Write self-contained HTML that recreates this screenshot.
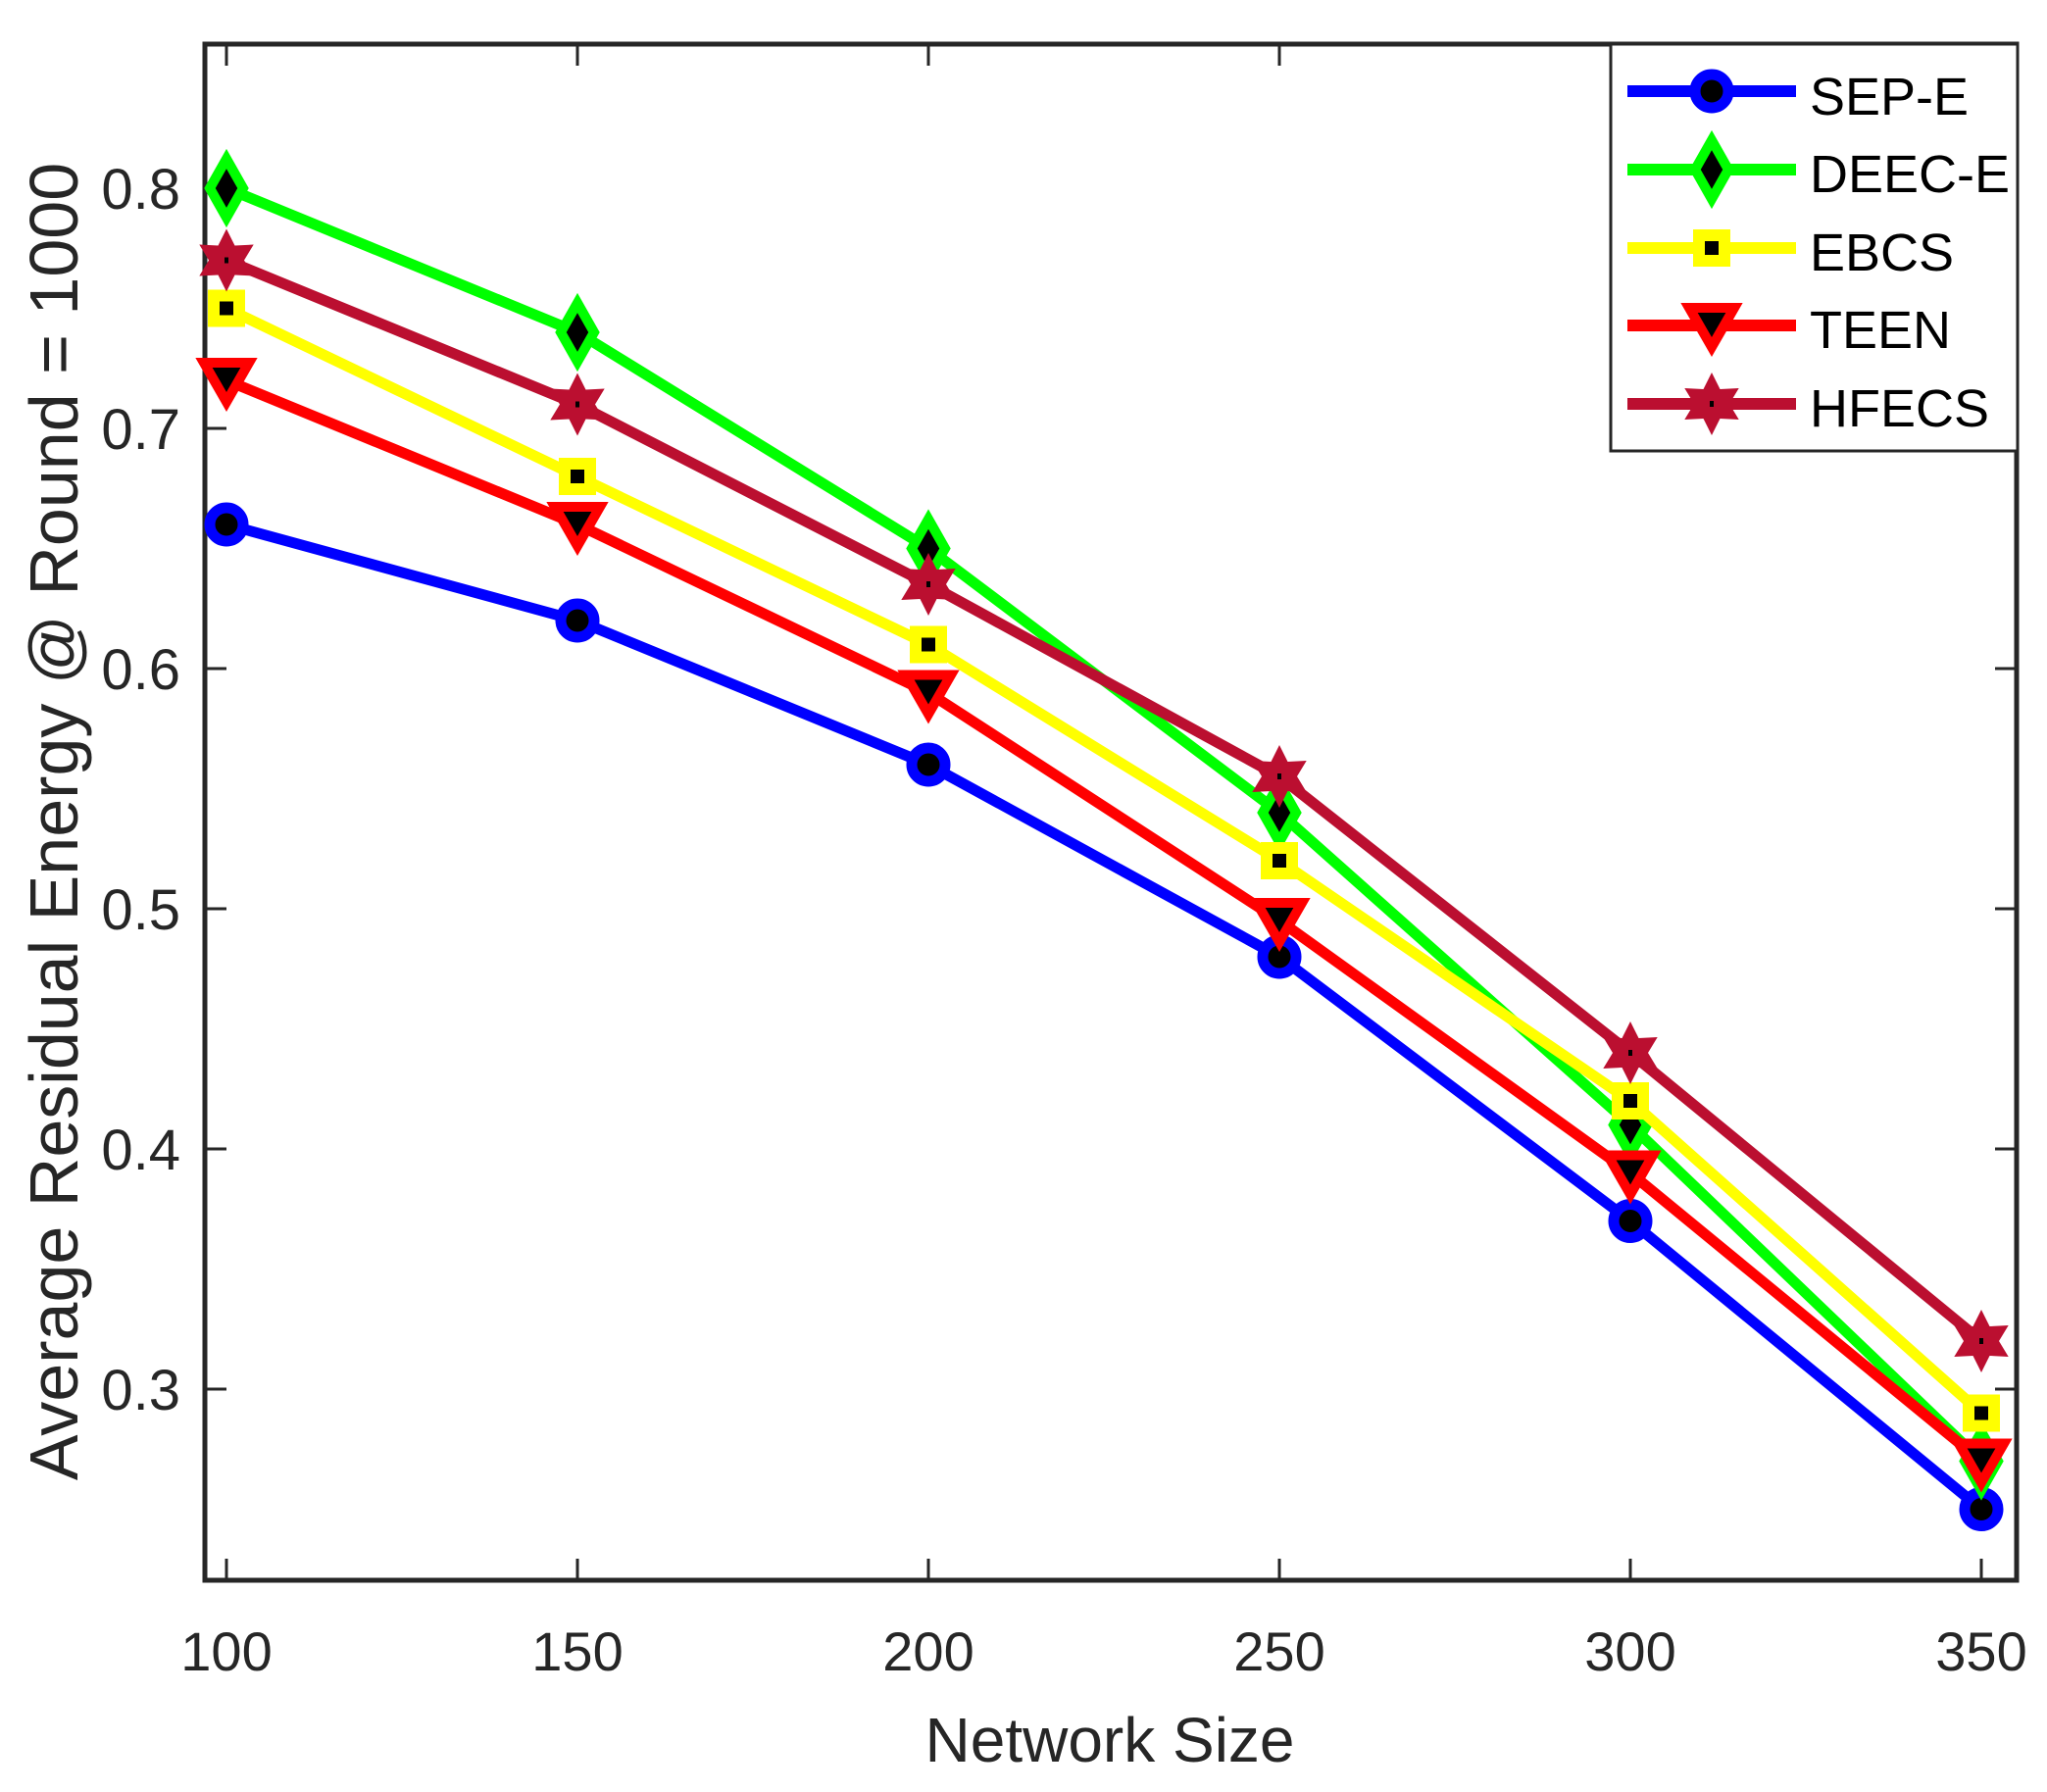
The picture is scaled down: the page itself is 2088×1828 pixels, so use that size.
<!DOCTYPE html>
<html><head><meta charset="utf-8"><style>
html,body{margin:0;padding:0;background:#fff;}
svg{display:block;}
text{font-family:"Liberation Sans",Arial,sans-serif;fill:#262626;}
</style></head><body>
<svg width="2088" height="1828" viewBox="0 0 2088 1828" xmlns="http://www.w3.org/2000/svg">
<defs>
<g id="mc"><circle r="17" fill="#000" stroke="#0000ff" stroke-width="11"/></g>
<g id="md"><polygon points="0,-30 17,0 0,30 -17,0" fill="#000" stroke="#00ff00" stroke-width="10"/></g>
<g id="ms"><rect x="-13" y="-13" width="26" height="26" fill="#000" stroke="#ffff00" stroke-width="12"/></g>
<g id="mt"><polygon points="-23,-18 23,-18 0,22" fill="#000" stroke="#ff0000" stroke-width="10"/></g>
<g id="mh"><polygon points="0,-32 8.5,-15 27.7,-16 18,0 27.7,16 8.5,15 0,32 -8.5,15 -27.7,16 -18,0 -27.7,-16 -8.5,-15" fill="#bb0f30"/><rect x="-2" y="-3" width="4" height="6" fill="#000"/></g>
</defs>
<rect width="2088" height="1828" fill="#fff"/>
<g stroke="#262626" stroke-width="3">
<path d="M231 1612v-22M589 1612v-22M947 1612v-22M1305 1612v-22M1663 1612v-22M2021 1612v-22"/>
<path d="M231 45v22M589 45v22M947 45v22M1305 45v22M1663 45v22M2021 45v22"/>
<path d="M209 1417h22M209 1172h22M209 927h22M209 682h22M209 437h22M209 192h22"/>
<path d="M2057 1417h-22M2057 1172h-22M2057 927h-22M2057 682h-22M2057 437h-22M2057 192h-22"/>
</g>
<rect x="209" y="45" width="1848" height="1567" fill="none" stroke="#262626" stroke-width="5"/>
<polyline fill="none" stroke-width="11" stroke-linejoin="round" stroke="#0000ff" points="231,535 589,633 947,780 1305,976 1663,1245.5 2021,1539.5"/>
<use href="#mc" x="231" y="535"/><use href="#mc" x="589" y="633"/><use href="#mc" x="947" y="780"/><use href="#mc" x="1305" y="976"/><use href="#mc" x="1663" y="1245.5"/><use href="#mc" x="2021" y="1539.5"/>
<polyline fill="none" stroke-width="11" stroke="#00ff00" points="231,192 589,339 947,559.5 1305,829 1663,1147.5 2021,1490.5"/>
<use href="#md" x="231" y="192"/><use href="#md" x="589" y="339"/><use href="#md" x="947" y="559.5"/><use href="#md" x="1305" y="829"/><use href="#md" x="1663" y="1147.5"/><use href="#md" x="2021" y="1490.5"/>
<polyline fill="none" stroke-width="11" stroke="#ffff00" points="231,314.5 589,486 947,657.5 1305,878 1663,1123 2021,1441.5"/>
<use href="#ms" x="231" y="314.5"/><use href="#ms" x="589" y="486"/><use href="#ms" x="947" y="657.5"/><use href="#ms" x="1305" y="878"/><use href="#ms" x="1663" y="1123"/><use href="#ms" x="2021" y="1441.5"/>
<polyline fill="none" stroke-width="11" stroke="#ff0000" points="231,388 589,535 947,706.5 1305,939 1663,1196.5 2021,1490.5"/>
<use href="#mt" x="231" y="388"/><use href="#mt" x="589" y="535"/><use href="#mt" x="947" y="706.5"/><use href="#mt" x="1305" y="939"/><use href="#mt" x="1663" y="1196.5"/><use href="#mt" x="2021" y="1490.5"/>
<polyline fill="none" stroke-width="11" stroke="#bb0f30" points="231,265.5 589,412.5 947,596 1305,792 1663,1074 2021,1368"/>
<use href="#mh" x="231" y="265.5"/><use href="#mh" x="589" y="412.5"/><use href="#mh" x="947" y="596"/><use href="#mh" x="1305" y="792"/><use href="#mh" x="1663" y="1074"/><use href="#mh" x="2021" y="1368"/>
<g font-size="58" text-anchor="end">
<text x="184" y="1438">0.3</text><text x="184" y="1193">0.4</text><text x="184" y="948">0.5</text>
<text x="184" y="703">0.6</text><text x="184" y="458">0.7</text><text x="184" y="213">0.8</text>
</g>
<g font-size="56" text-anchor="middle">
<text x="231" y="1704">100</text><text x="589" y="1704">150</text><text x="947" y="1704">200</text>
<text x="1305" y="1704">250</text><text x="1663" y="1704">300</text><text x="2021" y="1704">350</text>
</g>
<text x="1132" y="1797" font-size="64" text-anchor="middle">Network Size</text>
<text transform="translate(79,838) rotate(-90)" font-size="70" text-anchor="middle">Average Residual Energy @ Round = 1000</text>
<rect x="1643" y="45" width="415" height="415" fill="#fff" stroke="#262626" stroke-width="3"/>
<g stroke-width="12">
<line x1="1660" y1="93" x2="1832" y2="93" stroke="#0000ff"/>
<line x1="1660" y1="173" x2="1832" y2="173" stroke="#00ff00"/>
<line x1="1660" y1="253" x2="1832" y2="253" stroke="#ffff00"/>
<line x1="1660" y1="332" x2="1832" y2="332" stroke="#ff0000"/>
<line x1="1660" y1="412" x2="1832" y2="412" stroke="#bb0f30"/>
</g>
<use href="#mc" x="1746" y="93"/><use href="#md" x="1746" y="173"/><use href="#ms" x="1746" y="253"/><use href="#mt" x="1746" y="332"/><use href="#mh" x="1746" y="412"/>
<g font-size="54">
<text x="1846" y="117" style="fill:#000">SEP-E</text>
<text x="1846" y="196" style="fill:#000">DEEC-E</text>
<text x="1846" y="276" style="fill:#000">EBCS</text>
<text x="1846" y="355" style="fill:#000">TEEN</text>
<text x="1846" y="435" style="fill:#000">HFECS</text>
</g>
</svg>
</body></html>
